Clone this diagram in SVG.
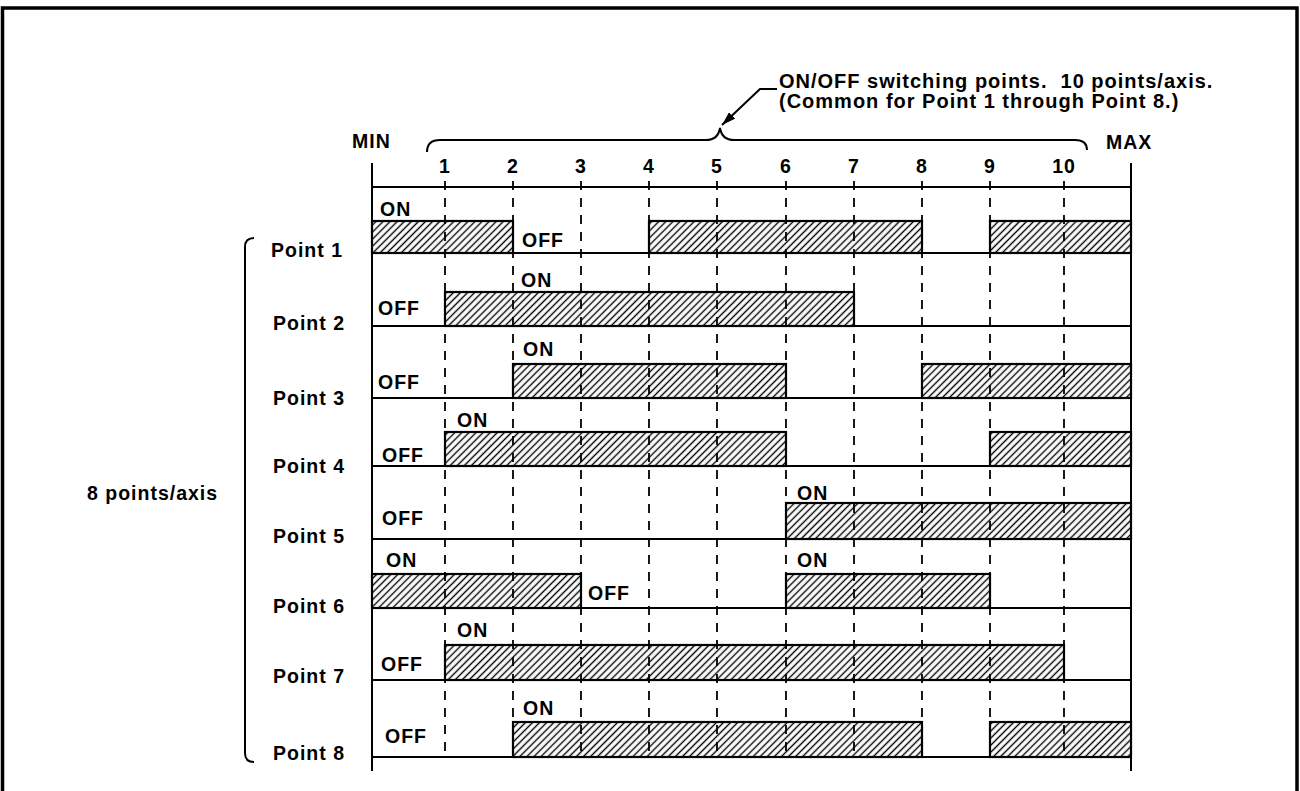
<svg xmlns="http://www.w3.org/2000/svg" width="1300" height="791" viewBox="0 0 1300 791">
<defs>
<pattern id="hatch" patternUnits="userSpaceOnUse" width="5" height="10" patternTransform="rotate(45)">
<line x1="2.5" y1="0" x2="2.5" y2="10" stroke="#000" stroke-width="1.4"/>
</pattern>
<marker id="arrow" viewBox="0 0 14 9" refX="14" refY="4.5" markerWidth="14" markerHeight="9" markerUnits="userSpaceOnUse" orient="auto">
<path d="M0,0 L14,4.5 L0,9 Z" fill="#000"/>
</marker>
</defs>
<style>
text { font-family: "Liberation Sans", Arial, sans-serif; font-weight: bold; font-size: 19.5px; letter-spacing: 1px; fill: #000; }
.num { text-anchor: middle; }
.note { font-size: 20px; }
.bar { fill: url(#hatch); stroke: #000; stroke-width: 2.2; }
.dash { stroke: #000; stroke-width: 1.8; stroke-dasharray: 9 8; fill: none; }
.ln { stroke: #000; stroke-width: 2; fill: none; }
.frame { stroke: #000; stroke-width: 3.5; fill: none; }
</style>
<rect width="1300" height="791" fill="#fff"/>
<path class="frame" d="M2.5,791 V8 H1297 V791"/>

<g id="connectors">
<g id="tick-lines">
<line class="dash" x1="445" y1="181" x2="445" y2="757"/>
<line class="dash" x1="513" y1="181" x2="513" y2="757"/>
<line class="dash" x1="581" y1="181" x2="581" y2="757"/>
<line class="dash" x1="649" y1="181" x2="649" y2="757"/>
<line class="dash" x1="717" y1="181" x2="717" y2="757"/>
<line class="dash" x1="786" y1="181" x2="786" y2="757"/>
<line class="dash" x1="854" y1="181" x2="854" y2="757"/>
<line class="dash" x1="922" y1="181" x2="922" y2="757"/>
<line class="dash" x1="990" y1="181" x2="990" y2="757"/>
<line class="dash" x1="1064" y1="181" x2="1064" y2="757"/>
</g>
<path id="brace-top" class="ln" d="M427,152 Q427,140 440,140 L706,140 Q718,140 720,128 Q722,140 734,140 L1075,140 Q1087,140 1087,150"/>
<path id="leader" class="ln" d="M777,89 L760,89 L722,125" marker-end="url(#arrow)"/>
<path id="brace-left" class="ln" stroke-width="2.5" d="M254,238 Q245,238 245,247 V753 Q245,762 254,762"/>
</g>

<g id="axis">
<line class="ln" x1="372" y1="163" x2="372" y2="771"/>
<line class="ln" x1="1131" y1="163" x2="1131" y2="771"/>
<line class="ln" x1="372" y1="187" x2="1131" y2="187"/>
<text x="352" y="148">MIN</text>
<text x="1106" y="149">MAX</text>
<text class="num" x="445" y="173">1</text>
<text class="num" x="513" y="173">2</text>
<text class="num" x="581" y="173">3</text>
<text class="num" x="649" y="173">4</text>
<text class="num" x="717" y="173">5</text>
<text class="num" x="786" y="173">6</text>
<text class="num" x="854" y="173">7</text>
<text class="num" x="922" y="173">8</text>
<text class="num" x="990" y="173">9</text>
<text class="num" x="1064" y="173">10</text>
</g>

<g id="annotation">
<text class="note" x="779" y="88">ON/OFF switching points.&#160; 10 points/axis.</text>
<text class="note" x="779" y="108">(Common for Point 1 through Point 8.)</text>
</g>

<g id="group-label">
<text x="87" y="500">8 points/axis</text>
</g>

<g id="point-1">
<line class="ln" x1="372" y1="253" x2="1131" y2="253"/>
<rect class="bar" x="372" y="221" width="141" height="32"/>
<rect class="bar" x="649" y="221" width="273" height="32"/>
<rect class="bar" x="990" y="221" width="141" height="32"/>
<text x="380" y="216">ON</text>
<text x="522" y="247">OFF</text>
<text x="271" y="257">Point 1</text>
</g>

<g id="point-2">
<line class="ln" x1="372" y1="326" x2="1131" y2="326"/>
<rect class="bar" x="445" y="292" width="409" height="34"/>
<text x="521" y="287">ON</text>
<text x="378" y="315">OFF</text>
<text x="273" y="330">Point 2</text>
</g>

<g id="point-3">
<line class="ln" x1="372" y1="398" x2="1131" y2="398"/>
<rect class="bar" x="513" y="364" width="273" height="34"/>
<rect class="bar" x="922" y="364" width="209" height="34"/>
<text x="523" y="356">ON</text>
<text x="378" y="389">OFF</text>
<text x="273" y="405">Point 3</text>
</g>

<g id="point-4">
<line class="ln" x1="372" y1="466" x2="1131" y2="466"/>
<rect class="bar" x="445" y="432" width="341" height="34"/>
<rect class="bar" x="990" y="432" width="141" height="34"/>
<text x="457" y="427">ON</text>
<text x="382" y="462">OFF</text>
<text x="273" y="473">Point 4</text>
</g>

<g id="point-5">
<line class="ln" x1="372" y1="539" x2="1131" y2="539"/>
<rect class="bar" x="786" y="503" width="345" height="36"/>
<text x="797" y="500">ON</text>
<text x="382" y="525">OFF</text>
<text x="273" y="543">Point 5</text>
</g>

<g id="point-6">
<line class="ln" x1="372" y1="608" x2="1131" y2="608"/>
<rect class="bar" x="372" y="574" width="209" height="34"/>
<rect class="bar" x="786" y="574" width="204" height="34"/>
<text x="386" y="567">ON</text>
<text x="588" y="600">OFF</text>
<text x="797" y="567">ON</text>
<text x="273" y="613">Point 6</text>
</g>

<g id="point-7">
<line class="ln" x1="372" y1="680" x2="1131" y2="680"/>
<rect class="bar" x="445" y="645" width="619" height="35"/>
<text x="457" y="637">ON</text>
<text x="381" y="671">OFF</text>
<text x="273" y="683">Point 7</text>
</g>

<g id="point-8">
<line class="ln" x1="372" y1="757" x2="1131" y2="757"/>
<rect class="bar" x="513" y="722" width="409" height="35"/>
<rect class="bar" x="990" y="722" width="141" height="35"/>
<text x="523" y="715">ON</text>
<text x="385" y="743">OFF</text>
<text x="273" y="760">Point 8</text>
</g>
</svg>
